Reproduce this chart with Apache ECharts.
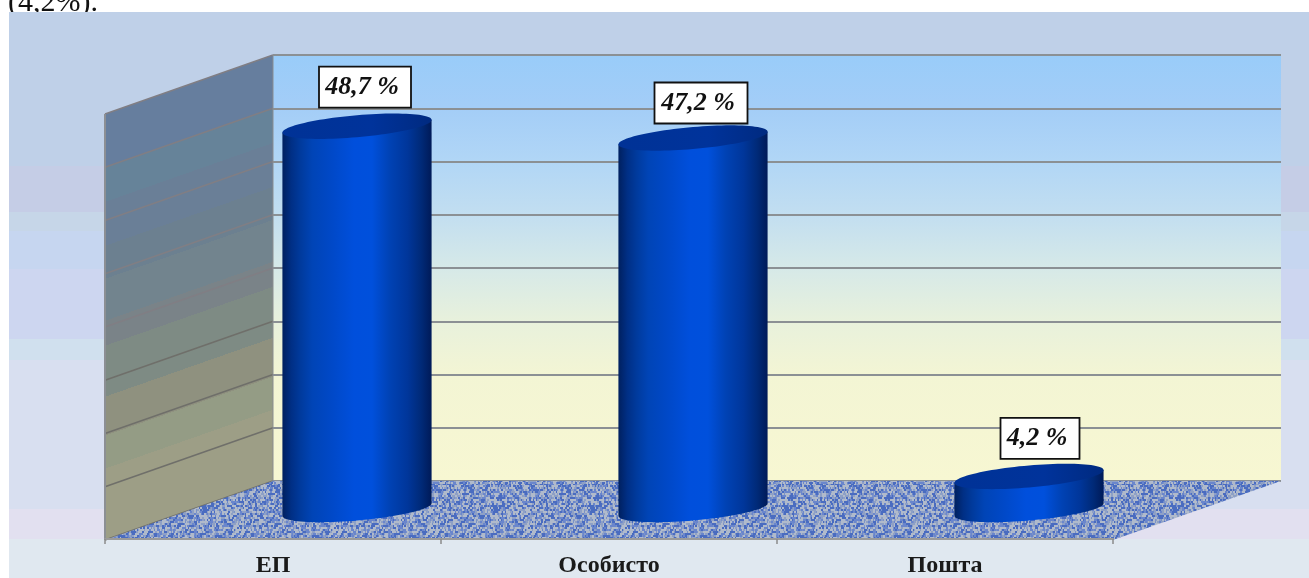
<!DOCTYPE html>
<html><head><meta charset="utf-8">
<style>html,body{margin:0;padding:0;background:#fff;overflow:hidden}#c{width:1309px;height:578px;filter:blur(.5px)}</style>
<script src="https://cdn.jsdelivr.net/npm/echarts@6/dist/echarts.min.js"></script>
</head><body><div id="c"></div>
<script>
const categories = ['ЕП', 'Особисто', 'Пошта'];
const shares = [48.7, 47.2, 4.2];
const axisMax = 54, axisStep = 6.75;
const clippedCaption = '(4,2%).';

// depth of the 3D box, in pixels
const DX = 168, DY = 59;
const serif = '"Liberation Serif","Times New Roman",serif';
const labelNudge = [[8, -39], [8, -35], [11, -38]];
const labelWidth = [92, 93, 79];

const chart = echarts.init(document.getElementById('c'), null, {renderer: 'canvas'});

function hardStops(list, end) {
  const out = [];
  list.forEach((b, i) => {
    const next = i + 1 < list.length ? list[i + 1][0] : end;
    out.push({offset: b[0], color: b[1]}, {offset: next, color: b[1]});
  });
  return out;
}
const H = 566, T = 12;
const panelBands = [[12,'#bfd0e8'],[166,'#c5cde6'],[212,'#c6d6e8'],[231,'#c6d6f0'],[269,'#cdd6f0'],[339,'#d0e0ee'],[360,'#d8dff0'],[509,'#e2e0f0'],[539,'#e0e8f0']]
  .map(b => [(b[0] - T) / H, b[1]]);
const sideBands = [[55,'#667e9e'],[108,'#668399'],[143,'#6a7f97'],[187,'#6c8090'],[220,'#72848e'],[262,'#7a8388'],[287,'#7e8b84'],[338,'#8f917f'],[377,'#949c85'],[410,'#9d9e86']]
  .map(b => [(b[0] - 55) / 426, b[1]]);
const backStops = [[0,'#99ccf9'],[.12,'#a3cdf7'],[.25,'#b1d6f6'],[.375,'#c2def0'],[.5,'#d6e9e8'],[.625,'#e8f1dc'],[.75,'#f3f5d4'],[1,'#f7f7d2']]
  .map(s => ({offset: s[0], color: s[1]}));
const cylStops = [[0,'#00205f'],[.06,'#002f85'],[.12,'#003a9c'],[.2,'#0044b6'],[.32,'#0048c6'],[.48,'#004fdc'],[.6,'#0050dc'],[.72,'#0042b4'],[.84,'#00369a'],[.93,'#002a78'],[1,'#001a58']]
  .map(s => ({offset: s[0], color: s[1]}));

function graniteTile() {
  const n = 97, cv = document.createElement('canvas');
  cv.width = cv.height = n;
  const g = cv.getContext('2d');
  g.fillStyle = '#7a92c8'; g.fillRect(0, 0, n, n);
  const h = (a, b) => { const s = Math.sin(a * 12.9898 + b * 78.233) * 43758.5453; return s - Math.floor(s); };
  for (let y = 0; y < n; y += 2) for (let x = 0; x < n; x += 2) {
    const v = h(x, y), w = h(y + 3, x + 7);
    g.fillStyle = v < .3 ? '#4a6cc0' : v < .62 ? '#b0bacb' : v < .8 ? '#6a86cc' : '#8ea0c6';
    g.fillRect(x + Math.floor(w * 2), y, 2 + Math.floor(w * 3), 2);
  }
  return cv;
}
const granite = graniteTile();

function wallItem(params, api) {
  const c = params.coordSys;
  const x = c.x, y = c.y, w = c.width, h = c.height;
  const kids = [
    {type: 'polygon', shape: {points: [[x, y], [x + w, y], [x + w, y + h], [x, y + h]]},
     style: {fill: {type: 'linear', x: 0, y: 0, x2: 0, y2: 1, colorStops: backStops}}},
    {type: 'polygon', shape: {points: [[x, y], [x, y + h], [x - DX, y + h + DY], [x - DX, y + DY]]},
     style: {fill: {type: 'linear', global: true, x: x, y: y, x2: x + 133, y2: y + 379, colorStops: hardStops(sideBands, 1)}}}
  ];
  for (let v = 0; v <= axisMax; v += axisStep) {
    const p = api.coord([0, v]);
    kids.push({type: 'line', shape: {x1: x, y1: p[1], x2: x - DX, y2: p[1] + DY},
      style: {stroke: v > axisMax * .45 ? '#807e84' : '#6f6f6a', lineWidth: 1.5}});
  }
  kids.push({type: 'line', shape: {x1: x - DX, y1: y + DY, x2: x - DX, y2: y + h + DY}, style: {stroke: '#8c8f94', lineWidth: 2}});
  kids.push({type: 'line', shape: {x1: x, y1: y, x2: x, y2: y + h}, style: {stroke: '#8a8d90', lineWidth: 1}});
  return {type: 'group', children: kids};
}
function floorItem(params) {
  const c = params.coordSys;
  const x = c.x, y = c.y + c.height, w = c.width;
  return {type: 'polygon', shape: {points: [[x, y], [x + w, y], [x + w - DX, y + DY], [x - DX, y + DY]]},
    style: {fill: {image: granite, repeat: 'repeat'}}};
}
function cylinderItem(params, api) {
  const i = api.value(0), v = api.value(1);
  const base = api.coord([i, 0]), top = api.coord([i, v]);
  const cx = base[0] + DX / 2, by = base[1] - DY / 2, ty = top[1] - DY / 2;
  const rx = api.size([1, 0])[0] * .222, k = .085, ry = 11;
  const ell = (yy, t) => [cx + rx * Math.cos(t), yy - k * rx * Math.cos(t) + ry * Math.sin(t)];
  const body = [], cap = [];
  body.push(ell(ty, 0));
  for (let a = 0; a <= 48; a++) body.push(ell(by, a / 48 * Math.PI));
  body.push(ell(ty, Math.PI));
  for (let a = 0; a < 96; a++) cap.push(ell(ty, a / 96 * 2 * Math.PI));
  const bw = labelWidth[i], bh = 41;
  const lx = cx + labelNudge[i][0], ly = ty + labelNudge[i][1];
  return {type: 'group', children: [
    {type: 'polygon', shape: {points: body}, style: {fill: {type: 'linear', x: 0, y: 0, x2: 1, y2: 0, colorStops: cylStops}}},
    {type: 'polygon', shape: {points: cap}, style: {fill: {type: 'linear', x: 0, y: 0, x2: 1, y2: 0,
      colorStops: [{offset: 0, color: '#003296'}, {offset: .6, color: '#00339b'}, {offset: 1, color: '#002a80'}]}}},
    {type: 'rect', shape: {x: lx - bw / 2, y: ly - bh / 2, width: bw, height: bh},
      style: {fill: '#fff', stroke: '#111', lineWidth: 1.8}},
    {type: 'text', x: lx - 3, y: ly, style: {text: v.toFixed(1).replace('.', ',') + ' %', fill: '#111',
      font: 'italic bold 26px ' + serif, textAlign: 'center', textVerticalAlign: 'middle'}}
  ]};
}

chart.setOption({
  animation: false,
  backgroundColor: '#fff',
  graphic: [
    {type: 'text', z: -12, x: 8, y: 18, style: {text: clippedCaption, fill: '#111', font: '30px ' + serif, textVerticalAlign: 'bottom'}},
    {type: 'rect', z: -10, shape: {x: 9, y: 12, width: 1300, height: 566},
     style: {fill: {type: 'linear', x: 0, y: 0, x2: 0, y2: 1, colorStops: hardStops(panelBands, 1)}}}
  ],
  grid: [
    {left: 273, top: 55, width: 1008, height: 426},
    {left: 105, top: 114, width: 1008, height: 426}
  ],
  xAxis: [
    {gridIndex: 0, type: 'category', data: categories, show: false},
    {gridIndex: 1, type: 'category', data: categories, z: 6,
     axisLine: {lineStyle: {color: '#9a9a9a', width: 2}},
     axisTick: {show: true, length: 5, lineStyle: {color: '#8a8a8a', width: 1.5}},
     axisLabel: {color: '#1a1a1a', fontFamily: serif, fontWeight: 'bold', fontSize: 24, margin: 15}}
  ],
  yAxis: [
    {gridIndex: 0, type: 'value', min: 0, max: axisMax, interval: axisStep, z: 2,
     axisLine: {show: false}, axisTick: {show: false}, axisLabel: {show: false},
     splitLine: {show: true, lineStyle: {color: '#8b9094', width: 2}}},
    {gridIndex: 1, type: 'value', min: 0, max: axisMax, interval: axisStep, show: false, splitLine: {show: false}}
  ],
  series: [
    {type: 'custom', name: 'wall', z: 1, xAxisIndex: 0, yAxisIndex: 0, silent: true, clip: false, data: [[0, 0]], renderItem: wallItem},
    {type: 'custom', name: 'floor', z: 3, xAxisIndex: 0, yAxisIndex: 0, silent: true, clip: false, data: [[0, 0]], renderItem: floorItem},
    {type: 'custom', name: 'Удел', z: 5, xAxisIndex: 1, yAxisIndex: 1, clip: false,
     data: shares.map((v, i) => [i, v]), encode: {x: 0, y: 1}, renderItem: cylinderItem}
  ]
});
</script></body></html>
